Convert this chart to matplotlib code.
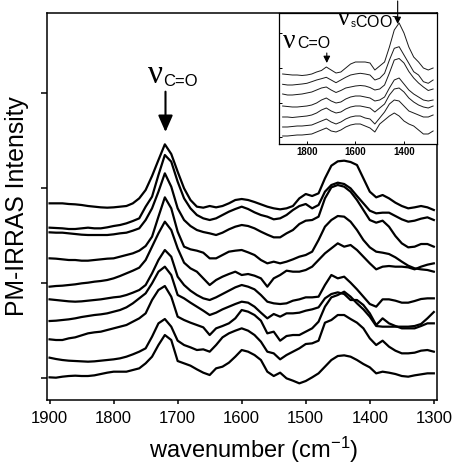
import matplotlib
matplotlib.use('Agg')
import matplotlib.pyplot as plt

plt.rcParams['font.family'] = ['Liberation Sans', 'DejaVu Sans']
plt.rcParams['mathtext.fontset'] = 'custom'
plt.rcParams['mathtext.rm'] = 'Liberation Sans'
plt.rcParams['mathtext.default'] = 'regular'

# main panel: offset PM-IRRAS spectra, 10 cm-1 steps from 1900 to 1300
wavenumber = [1900, 1890, 1880, 1870, 1860, 1850, 1840, 1830, 1820, 1810,
              1800, 1790, 1780, 1770, 1760, 1750, 1740, 1730, 1720, 1710,
              1700, 1690, 1680, 1670, 1660, 1650, 1640, 1630, 1620, 1610,
              1600, 1590, 1580, 1570, 1560, 1550, 1540, 1530, 1520, 1510,
              1500, 1490, 1480, 1470, 1460, 1450, 1440, 1430, 1420, 1410,
              1400, 1390, 1380, 1370, 1360, 1350, 1340, 1330, 1320, 1310,
              1300]

spec1 = [523, 523, 523, 521, 520, 518, 515, 513, 511, 510,
         511, 513, 515, 523, 538, 563, 605, 653, 700, 671,
         618, 568, 533, 513, 510, 515, 511, 515, 523, 533,
         536, 533, 527, 520, 513, 508, 505, 508, 515, 538,
         551, 545, 553, 598, 636, 649, 651, 647, 638, 598,
         558, 541, 548, 538, 525, 515, 508, 511, 515, 511,
         503]
spec2 = [450, 449, 448, 446, 446, 448, 450, 448, 448, 451,
         455, 458, 463, 470, 478, 513, 543, 608, 668, 648,
         588, 538, 508, 488, 478, 473, 478, 488, 498, 506,
         513, 506, 496, 488, 483, 475, 478, 488, 503, 515,
         521, 508, 518, 558, 578, 585, 581, 568, 545, 523,
         501, 493, 495, 495, 485, 475, 468, 471, 477, 481,
         473]
spec3 = [436, 435, 435, 433, 431, 429, 428, 428, 428, 428,
         430, 433, 435, 441, 448, 473, 508, 558, 613, 573,
         508, 473, 455, 443, 437, 433, 428, 435, 445, 453,
         458, 455, 448, 438, 429, 421, 421, 433, 443, 461,
         471, 473, 483, 538, 571, 578, 573, 558, 533, 503,
         473, 465, 471, 453, 425, 403, 391, 393, 401, 401,
         393]
spec4 = [358, 357, 355, 353, 353, 351, 351, 353, 355, 357,
         358, 363, 368, 373, 381, 395, 423, 483, 541, 508,
         438, 393, 385, 381, 375, 358, 358, 368, 378, 381,
         383, 376, 368, 353, 343, 348, 343, 348, 355, 363,
         368, 378, 413, 453, 473, 485, 483, 468, 443, 413,
         391, 378, 375, 371, 361, 348, 336, 328, 325, 323,
         318]
spec5 = [273, 275, 276, 278, 280, 283, 285, 288, 290, 293,
         298, 305, 313, 321, 330, 353, 393, 433, 468, 443,
         388, 345, 328, 318, 298, 278, 293, 303, 311, 318,
         308, 311, 306, 298, 273, 298, 308, 321, 318, 318,
         323, 333, 353, 373, 388, 403, 393, 398, 383, 363,
         343, 325, 333, 335, 333, 333, 331, 325, 333, 339,
         343]
spec6 = [235, 233, 231, 229, 228, 229, 231, 233, 235, 238,
         241, 243, 248, 255, 263, 278, 313, 353, 383, 363,
         303, 278, 261, 248, 238, 233, 241, 251, 261, 271,
         278, 273, 265, 248, 228, 223, 221, 223, 231, 235,
         241, 241, 243, 278, 308, 298, 303, 285, 265, 243,
         221, 213, 235, 235, 231, 225, 225, 230, 236, 238,
         238]
spec7 = [170, 171, 173, 175, 178, 182, 185, 188, 190, 193,
         198, 203, 211, 223, 238, 253, 283, 318, 333, 308,
         248, 238, 225, 213, 201, 188, 195, 205, 213, 221,
         228, 225, 213, 195, 178, 191, 183, 193, 193, 195,
         201, 205, 211, 238, 251, 256, 251, 233, 233, 218,
         193, 158, 178, 163, 155, 148, 148, 148, 155, 163,
         163]
spec8 = [115, 113, 113, 118, 121, 127, 133, 136, 138, 143,
         148, 153, 158, 168, 178, 193, 233, 263, 275, 243,
         183, 173, 165, 158, 151, 128, 148, 155, 163, 178,
         203, 198, 188, 171, 133, 138, 111, 125, 128, 128,
         138, 148, 168, 213, 241, 248, 258, 243, 223, 205,
         183, 155, 153, 153, 153, 153, 153, 155, 161, 178,
         197]
spec9 = [60, 56, 53, 51, 50, 49, 48, 49, 51, 53,
         55, 58, 63, 70, 78, 88, 123, 163, 176, 153,
         111, 98, 91, 83, 85, 78, 98, 121, 133, 141,
         148, 141, 128, 108, 78, 73, 55, 68, 78, 88,
         101, 103, 111, 165, 173, 188, 188, 176, 165, 148,
         118, 98, 111, 93, 81, 73, 73, 75, 81, 83,
         78]
spec10 = [1, 0, 3, 5, 6, 5, 5, 7, 11, 15,
          18, 18, 18, 23, 28, 43, 63, 98, 128, 113,
          50, 43, 36, 25, 15, 8, 28, 33, 45, 63,
          83, 78, 68, 53, 18, 5, 15, -2, -9, -17,
          -10, 1, 13, 33, 53, 65, 67, 63, 53, 41,
          31, 13, 18, 15, 11, 5, 3, 7, 10, 13,
          13]

# inset: wider range, 20 cm-1 steps
inset_wn = [1900, 1880, 1860, 1840, 1820, 1800, 1780, 1760, 1740, 1720,
            1700, 1680, 1660, 1640, 1620, 1600, 1580, 1560, 1540, 1520,
            1500, 1480, 1460, 1440, 1420, 1400, 1380, 1360, 1340, 1320,
            1300, 1280]
ins1 = [70, 69.5, 69, 69, 68.5, 69, 70, 72, 73.5, 77,
        74, 71, 72, 76, 80, 82, 82, 82, 81, 74,
        78, 82, 97, 114, 121, 111, 97, 87, 82, 76,
        74, 76]
ins2 = [59.7, 59, 59, 59.5, 60, 60.7, 62.3, 64, 65.3, 66.7,
        64, 61.3, 64, 66.7, 69, 70, 70.7, 70, 69, 64,
        65.7, 70.7, 84, 95.7, 97.3, 89, 80.7, 72.3, 69, 62.3,
        60.7, 64]
ins3 = [50, 49, 49, 49.5, 50, 51, 52, 54, 56, 57,
        54, 51.5, 53.5, 56, 57, 58, 58.5, 58, 56.5, 54,
        55, 59, 71, 84, 85.5, 81, 72.5, 66, 61, 57,
        53.5, 55]
ins4 = [38, 37.5, 37, 37, 37.5, 38, 39, 41, 44, 46,
        43, 41, 42, 45, 47, 48, 48, 47, 46, 43,
        44, 47, 56, 64, 66, 60, 54, 50, 47, 44,
        43, 44]
ins5 = [27, 27, 26.5, 27, 27.5, 28, 29, 31, 34, 36,
        33, 31, 32, 35, 37, 38, 38, 37, 36, 32,
        36, 40, 49, 55, 56, 52, 46, 42, 39, 37,
        36, 38]
ins6 = [17, 17, 17.5, 18, 18, 18.5, 19, 21, 23, 25,
        22, 20, 22, 25, 27, 28, 28, 26, 25, 20,
        26, 32, 40, 44, 43, 38, 33, 31, 29, 27,
        27, 29]
ins7 = [8, 8, 8.5, 9, 9, 9.5, 10, 12, 14, 16,
        13, 12, 14, 17, 19, 20, 20, 18, 16, 12,
        20, 24, 28, 31, 28, 23, 20, 18, 14, 10,
        10, 13]

main_ticks = [1900, 1800, 1700, 1600, 1500, 1400, 1300]
inset_ticks = [1800, 1600, 1400]

fig = plt.figure(figsize=(4.56, 4.66), dpi=100)
ax = fig.add_axes([0.1031, 0.1416, 0.8553, 0.8305])

for spec in [spec1, spec2, spec3, spec4, spec5, spec6, spec7, spec8, spec9, spec10]:
    ax.plot(wavenumber, spec, color='black', lw=1.6, solid_joinstyle='round')

ax.set_xlim(1904, 1295)
ax.set_ylim(-67, 1094)
ax.set_xticks(main_ticks)
ax.set_yticks([0, 285, 570, 855])
ax.set_yticklabels([])
ax.tick_params(axis='x', direction='out', length=3, width=1.1, labelsize=12, pad=5)
ax.tick_params(axis='y', direction='out', length=4.5, width=1.1)
for sp in ax.spines.values():
    sp.set_linewidth(1.1)

ax.set_ylabel('PM-IRRAS Intensity', fontsize=17.8, labelpad=5)
ax.set_xlabel('wavenumber (cm$^{-1}$)', fontsize=17)
ax.xaxis.set_label_coords(0.531, -0.09)

# carbonyl band marker
ax.text(1747, 884, '\u03bd', fontsize=24, family='Liberation Serif', ha='left', va='baseline')
ax.text(1722, 875, 'C=O', fontsize=12, ha='left', va='baseline')
ax.annotate('', xy=(1719, 737), xytext=(1719, 858),
            arrowprops=dict(arrowstyle='-|>,head_length=0.5,head_width=0.22',
                            mutation_scale=20, lw=1.5, color='black',
                            shrinkA=0, shrinkB=0))

# inset
ins = fig.add_axes([0.6118, 0.6910, 0.3465, 0.2811])
for spec in [ins1, ins2, ins3, ins4, ins5, ins6, ins7]:
    ins.plot(inset_wn, spec, color='#1a1a1a', lw=0.7)
ins.set_xlim(1915, 1264)
ins.set_ylim(0, 131)
ins.set_xticks(inset_ticks)
ins.set_yticks([7, 41, 76, 111])
ins.set_yticklabels([])
ins.tick_params(axis='x', direction='in', length=2, width=0.7, labelsize=7, pad=2)
ins.tick_params(axis='y', direction='in', length=2, width=0.7)
for lab in ins.get_xticklabels():
    lab.set_fontweight('bold')
for sp in ins.spines.values():
    sp.set_linewidth(0.9)

ins.text(1899, 96, '\u03bd', fontsize=20, family='Liberation Serif', ha='left', va='baseline')
ins.text(1841, 96, 'C=O', fontsize=11.5, ha='left', va='baseline')
ins.annotate('', xy=(1718, 81), xytext=(1718, 91),
             arrowprops=dict(arrowstyle='-|>,head_length=0.4,head_width=0.2',
                             mutation_scale=10, lw=0.8, color='black',
                             shrinkA=0, shrinkB=0))
ins.text(1672, 119, '\u03bd', fontsize=18, family='Liberation Serif', ha='left', va='baseline',
         clip_on=False)
ins.text(1619, 117, 's', fontsize=7, ha='left', va='baseline')
ins.text(1603, 117, 'COO$^{-}$', fontsize=11.5, ha='left', va='baseline')
ins.annotate('', xy=(1426, 120), xytext=(1426, 143),
             arrowprops=dict(arrowstyle='-|>,head_length=0.4,head_width=0.2',
                             mutation_scale=10, lw=0.8, color='black',
                             shrinkA=0, shrinkB=0),
             annotation_clip=False)

fig.savefig('out.png', dpi=100)
